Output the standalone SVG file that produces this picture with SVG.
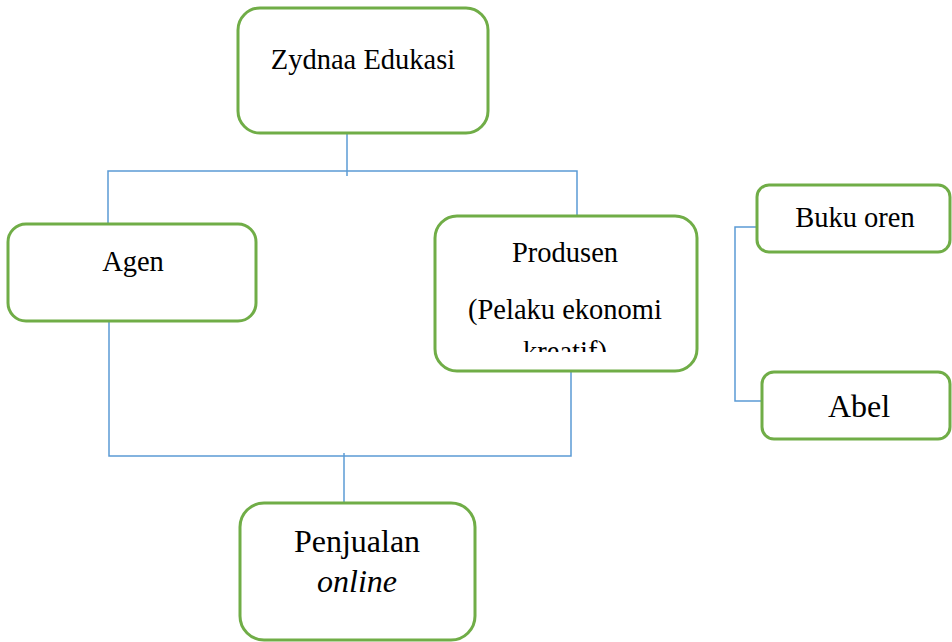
<svg xmlns="http://www.w3.org/2000/svg" width="952" height="642" viewBox="0 0 952 642">
<style>
.box{fill:#fff;stroke:#70AD47;stroke-width:3}
.ln{fill:none;stroke:#5B9BD5;stroke-width:1.5}
.t{font-family:'Liberation Serif','DejaVu Serif',serif;font-size:28.5px;fill:#000;text-anchor:middle}
.b{font-size:32px}
</style>
<defs>
<clipPath id="clipP"><rect x="436" y="217" width="260" height="135"/></clipPath>
</defs>
<rect width="952" height="642" fill="#fff"/>
<g id="connectors">
<path class="ln" d="M347 133 V176"/>
<path class="ln" d="M108 224 V171 H577 V216"/>
<path class="ln" d="M109 321 V456 H571 V371"/>
<path class="ln" d="M344 453 V503"/>
<path class="ln" d="M757 227 H735 V401 H762"/>
</g>
<g id="zydnaa">
<rect class="box" x="238" y="8" width="250" height="125" rx="22"/>
<text class="t" x="363" y="69" font-family="Liberation Serif">Zydnaa Edukasi</text>
</g>
<g id="agen">
<rect class="box" x="8" y="224" width="248" height="97" rx="18"/>
<text class="t" x="133" y="271">Agen</text>
</g>
<g id="produsen">
<rect class="box" x="435" y="216" width="262" height="155" rx="22"/>
<text class="t" x="565" y="262">Produsen</text>
<g clip-path="url(#clipP)">
<text class="t" x="565" y="319">(Pelaku ekonomi</text>
<text class="t" x="565" y="361">kreatif)</text>
</g>
</g>
<g id="penjualan">
<rect class="box" x="240" y="503" width="235" height="137" rx="24"/>
<text class="t b" x="357" y="552">Penjualan</text>
<text class="t b" x="357" y="592" font-style="italic">online</text>
</g>
<g id="buku">
<rect class="box" x="757" y="185" width="193" height="67" rx="12"/>
<text class="t" x="855" y="227">Buku oren</text>
</g>
<g id="abel">
<rect class="box" x="762" y="372" width="188" height="67" rx="12"/>
<text class="t b" x="859" y="417">Abel</text>
</g>
</svg>
